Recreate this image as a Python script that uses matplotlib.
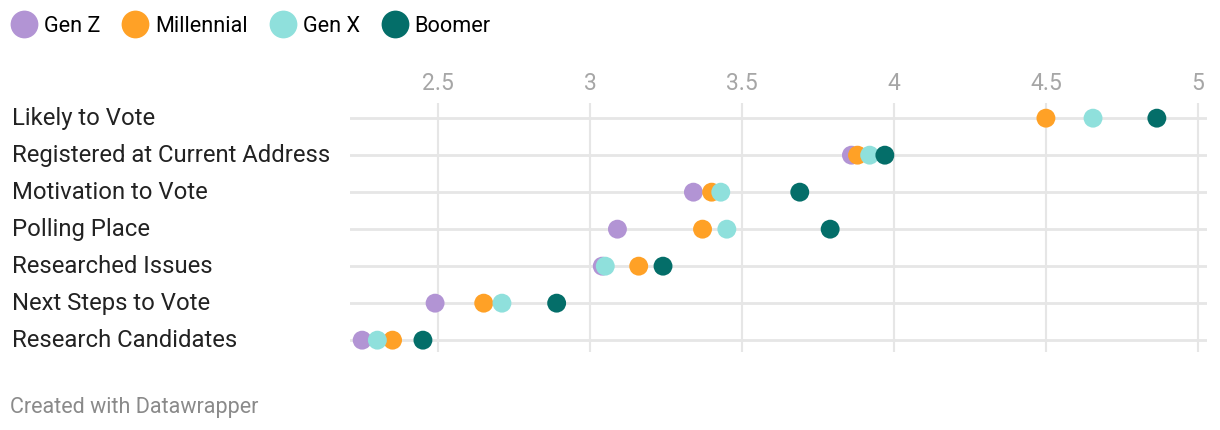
import matplotlib.pyplot as plt
from matplotlib.lines import Line2D
import numpy as np

plt.rcParams['font.family'] = ['Roboto', 'DejaVu Sans']

categories = ['Likely to Vote', 'Registered at Current Address', 'Motivation to Vote',
              'Polling Place', 'Researched Issues', 'Next Steps to Vote', 'Research Candidates']
gen_z = [np.nan, 3.86, 3.34, 3.09, 3.04, 2.49, 2.25]
millennial = [4.50, 3.88, 3.40, 3.37, 3.16, 2.65, 2.35]
gen_x = [4.655, 3.92, 3.43, 3.45, 3.05, 2.71, 2.30]
boomer = [4.865, 3.97, 3.69, 3.79, 3.24, 2.89, 2.45]

series = [('Gen Z', gen_z, '#b294d4'),
          ('Millennial', millennial, '#ffa126'),
          ('Gen X', gen_x, '#8fe0dc'),
          ('Boomer', boomer, '#046e69')]
xticks = [2.5, 3, 3.5, 4, 4.5, 5]

fig = plt.figure(figsize=(12.2, 4.3), dpi=100)
ax = fig.add_axes([350 / 1220, 1 - 352 / 430, (1207 - 350) / 1220, (352 - 103) / 430])

y = np.arange(len(categories))
for name, vals, color in series:
    ax.scatter(vals, y, s=185, color=color, edgecolors='none', zorder=3, label=name)

ax.set_xlim(2.21, 5.03)
ax.set_ylim(6.32, -0.41)
ax.set_xticks(xticks)
ax.set_xticklabels([f'{t:g}' for t in xticks])
ax.xaxis.tick_top()
ax.tick_params(axis='x', length=0, pad=6, labelsize=16.5, labelcolor='#a6a6a6')
ax.set_yticks(y)
ax.set_yticklabels([])
ax.tick_params(axis='y', length=0)
for yy in y:
    ax.axhline(yy, color='#e6e6e6', lw=2, zorder=1)
for t in xticks:
    ax.axvline(t, color='#e6e6e6', lw=1.5, zorder=1)
for s in ax.spines.values():
    s.set_visible(False)

# category labels at the left edge of the figure, aligned with rows
to_fig = ax.transData + fig.transFigure.inverted()
for yy, c in zip(y, categories):
    fy = to_fig.transform((0, yy))[1]
    fig.text(12 / 1220, fy, c, fontsize=17.2, color='#222222', va='center', ha='left')

handles = [Line2D([], [], marker='o', ls='none', markersize=20, markerfacecolor=c,
                  markeredgecolor='none', label=n) for n, _, c in series]
fig.legend(handles=handles, loc='center left', bbox_to_anchor=(10 / 1220, 1 - 26 / 430), ncol=4,
           frameon=False, fontsize=15.6, handletextpad=0.28, columnspacing=0.95,
           handlelength=1.3, borderaxespad=0.0, borderpad=0.0)

fig.text(10 / 1220, 1 - 407 / 430, 'Created with Datawrapper', fontsize=15.5,
         color='#8a8a8a', va='center', ha='left')

fig.savefig('out.png', dpi=100)
